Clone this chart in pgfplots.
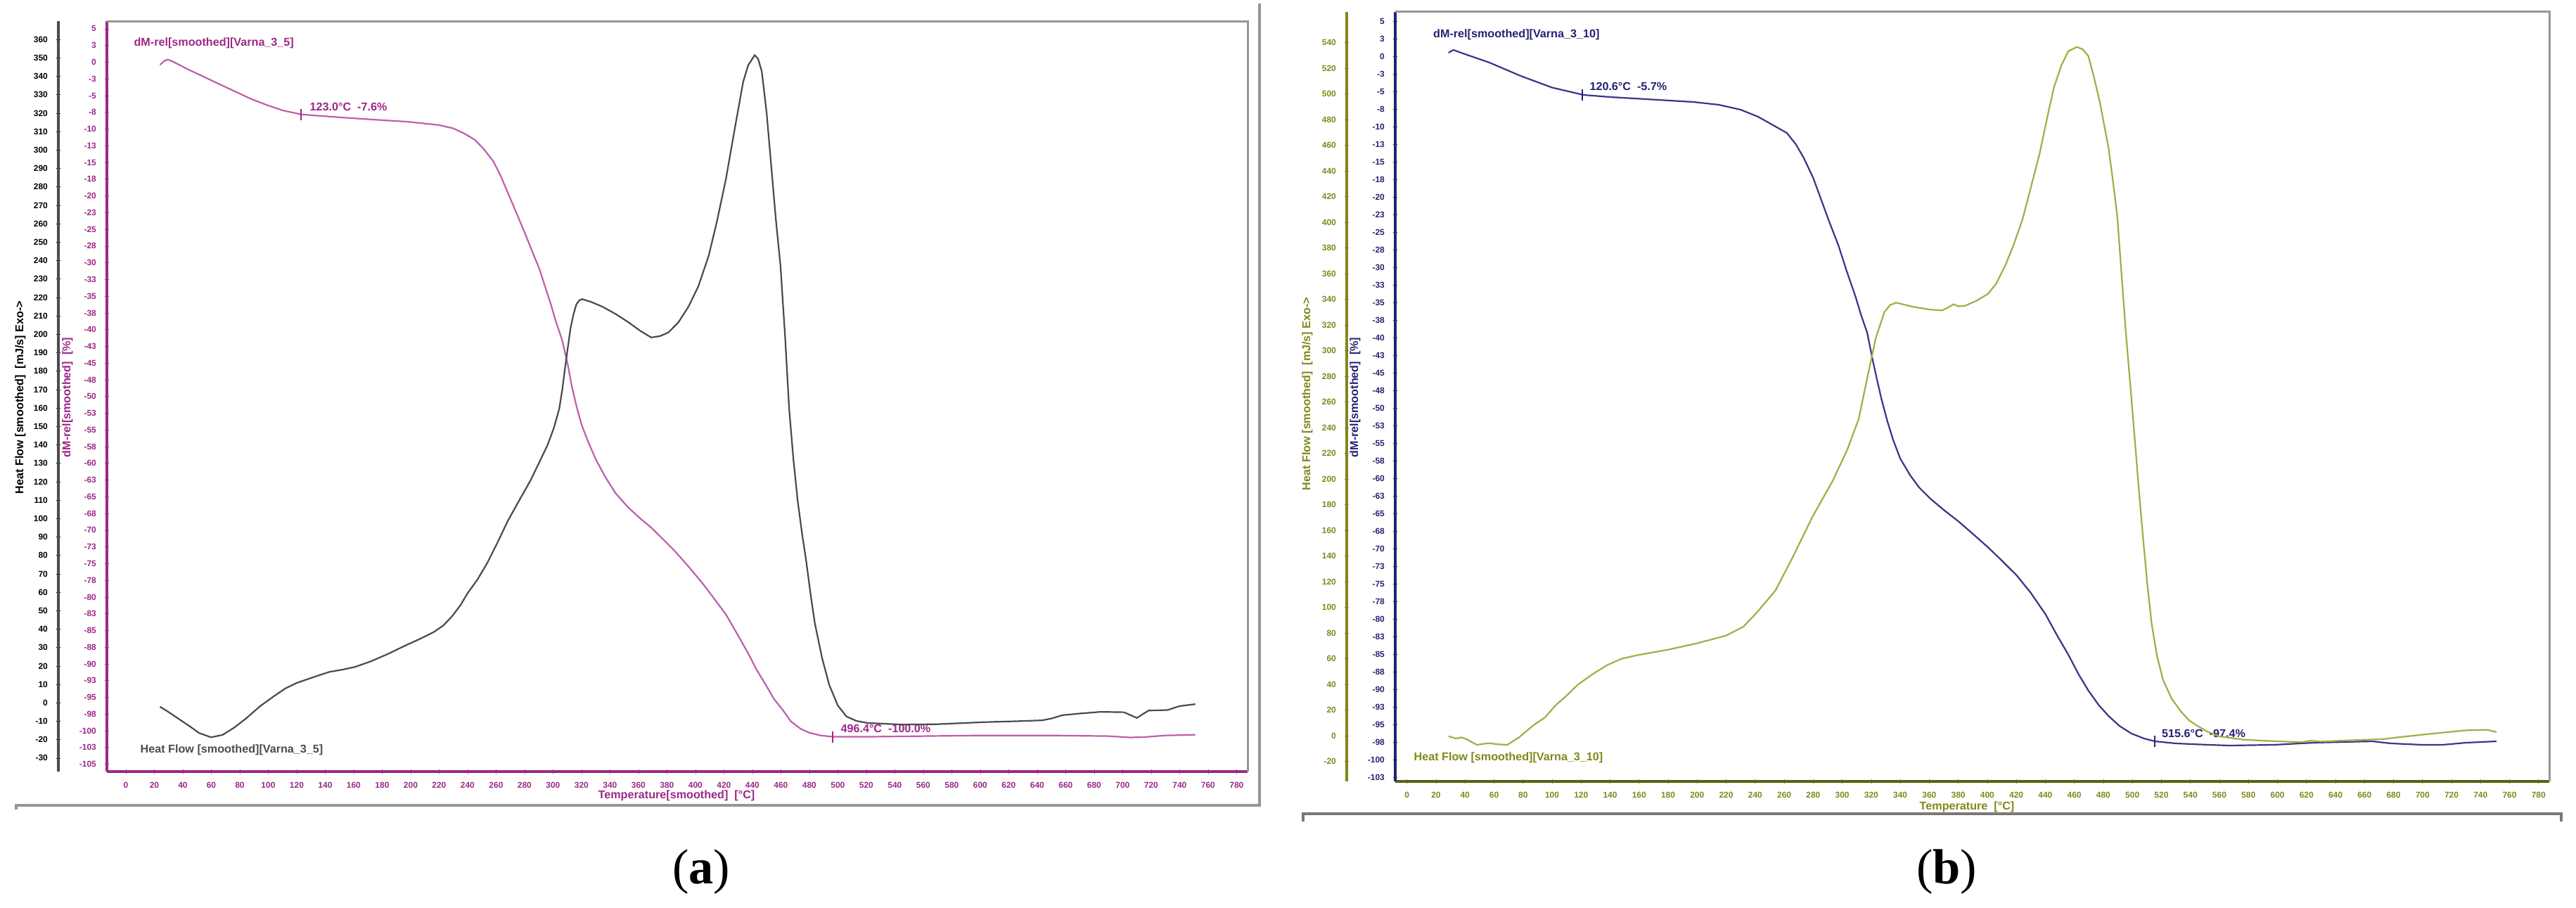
\documentclass[border=0pt]{standalone}
\usepackage{fontspec}
\setmainfont{Liberation Serif}
\setsansfont{Liberation Sans}
\usepackage{pgfplots}
\usepackage{pgfplotstable}
\pgfplotsset{compat=1.18}

\definecolor{magA}{RGB}{155,40,135}
\definecolor{magCurve}{RGB}{190,95,170}
\definecolor{hfCurve}{RGB}{75,75,75}
\definecolor{oliveB}{RGB}{130,135,25}
\definecolor{oliveCurve}{RGB}{165,172,70}
\definecolor{navyB}{RGB}{35,35,115}
\definecolor{navyCurve}{RGB}{55,55,135}
\definecolor{frameGray}{RGB}{150,150,150}

\newcommand{\tf}{\sffamily\bfseries\fontsize{3.4}{4}\selectfont}
\newcommand{\nf}{\sffamily\bfseries\fontsize{4.6}{5.5}\selectfont}

% panel (a): heat flow, Varna_3_5
\pgfplotstableread{
T HF
24 -2.1
30 -5
36.7 -8.5
45 -12.8
51.5 -16.4
59.8 -18.7
68 -17.4
76 -13.5
84.4 -8.5
94 -2
104 3.6
112 7.8
120 10.8
132 14
143 16.8
152 18
161 19.5
172 22.5
184 26.5
196 31
206 34.5
216 38.3
223 42
229 46.9
235 53
240 59.5
247 67
254 76.2
261 87
268 98.4
276 109.5
284.1 120.6
290 130
296.2 140
300.5 149
304.3 159.4
306.5 170
308.4 181.6
310.4 193
312.4 203.9
314.4 211
316.4 216.3
318.5 218.5
320.5 219.1
327 217.5
334.6 215
344 211
352.8 206.6
361 202
368.9 198.3
375 199
381 201
388 206.5
395.1 215
402 226
409.3 242.7
415 261
421.4 284.3
427 309
433.5 337
437 346
441.6 351.5
444 349.5
446.6 342.6
450 320
453.7 287
456.5 262
459.7 237.2
463 198
465.8 159.4
468.8 132
471.8 109.5
475 91
477.9 76.2
481 58
483.9 42.9
489 24
494 9.6
500 -1.5
506 -7.4
513 -9.8
520.4 -10.9
545 -11.8
570 -11.6
602 -10.5
625 -10
643.5 -9.5
650 -8.5
657.8 -6.7
670 -5.8
684.4 -4.9
700.8 -5.1
705 -6.5
710 -8.2
714 -6.2
718.2 -4.2
731.6 -3.9
739.8 -1.8
751 -0.7
}\hfA

% panel (a): mass loss, Varna_3_5
\pgfplotstableread{
T dM
24 -0.4
27 0.2
29.5 0.4
33 0.1
43.9 -1.1
55 -2.2
65.9 -3.3
77 -4.4
88 -5.5
99 -6.4
110 -7.2
123 -7.8
135 -8.0
154 -8.3
175 -8.6
198 -8.9
220 -9.4
230 -9.9
238 -10.7
245 -11.6
251 -12.9
258 -14.8
263 -16.9
268 -19.4
274 -22.4
280.1 -25.5
285 -28.1
290.2 -30.8
294 -33.3
298.3 -36.1
302 -38.8
306.3 -41.5
310.4 -45.3
313 -48.3
316.4 -51.4
320 -54.2
324.5 -56.7
330 -59.4
336.6 -62
344 -64.5
352.8 -66.6
361 -68.2
368.9 -69.6
377 -71.3
385 -73
395 -75.4
405.2 -78
413 -80.2
421.4 -82.6
429 -85.4
437.5 -88.6
443 -90.9
449.6 -93.2
455 -95.2
461.7 -97
467 -98.6
473.8 -99.7
480 -100.3
487.9 -100.7
496.4 -100.9
520 -100.9
560 -100.8
600 -100.7
650 -100.7
690 -100.8
705 -101
715 -100.95
730 -100.7
751 -100.6
}\dmA

% panel (b): heat flow, Varna_3_10
\pgfplotstableread{
T HF
28.7 -0.4
33.6 -2.2
37.6 -1.3
41.7 -3.1
48.1 -7.1
56.2 -5.8
62.7 -6.7
69.1 -7.1
77.2 -1.3
86.9 7.9
95 14.2
103 24.3
109.5 30.7
118 40
128 48
138 55
148 60
160 63
180 67
200 72
220 78
232 85
242 97.1
253.9 113
265.8 138.9
279.6 170.8
293.5 198.7
303.4 222.6
311.3 246.5
317.2 278.4
323.2 310.2
329.1 330.1
333 335.5
337.1 337.3
342 336
348.9 334.1
360 332
368.7 331.3
373 333.5
376.7 336.1
380 334.5
384.6 334.9
392 338.5
400.4 344.1
406 352
412.3 366
418 382
424.2 401.9
430 427
436.1 453.6
441 480
446 505.4
451 522
455.9 533.3
461.8 536.5
466 534.5
469.7 529.3
473.5 513
477.6 493.5
481 473
483.6 457.6
486.5 433
489.5 405.8
492.5 360
495.5 314.2
498.5 274
501.4 234.5
504.3 194
507.3 154.8
510.3 118
513.3 87.1
517 62
521.2 43.3
527 29
533.1 19.4
539 12
545 7.5
552 3
560 -0.5
576.5 -3.1
592.6 -4
610 -4.8
616.9 -4.9
623.4 -3.9
630 -4.6
649.2 -3.6
673.4 -2.6
685 -1
697.6 0.5
713.8 2.4
730 4.2
744.5 4.6
751 2.9
}\hfB

% panel (b): mass loss, Varna_3_10
\pgfplotstableread{
T dM
28.6 0.5
31.9 0.9
40 0.3
56.8 -0.9
78.4 -2.8
100 -4.45
121.7 -5.5
140 -5.8
165 -6.1
197.4 -6.5
215 -6.9
230 -7.6
242 -8.6
251.5 -9.7
261.8 -10.9
268 -12.5
273.6 -14.5
280 -17.3
285.5 -20.4
291 -23.5
297.4 -26.9
303 -30.5
309.2 -34.2
313 -36.8
317.2 -39.3
321.1 -43.3
324 -46
327 -48.7
331 -51.8
335 -54.5
340 -57.2
346.9 -59.6
353 -61.3
360.7 -62.9
370 -64.5
380.5 -66.2
390 -67.9
400.4 -69.8
410 -71.7
420.2 -73.8
430 -76.3
440 -79.3
448 -82.3
455.9 -85.1
463 -87.9
469.7 -90.2
477 -92.3
483.6 -93.8
491 -95.2
499.4 -96.3
508 -97
515.6 -97.4
530 -97.7
552.3 -97.9
566.8 -98
597.5 -97.9
625 -97.6
665.4 -97.4
678.3 -97.7
700 -97.9
713.8 -97.9
730 -97.6
751 -97.4
}\dmB

\newcommand{\dmticksA}{-105,-102.5,-100,-97.5,-95,-92.5,-90,-87.5,-85,-82.5,-80,-77.5,-75,-72.5,-70,-67.5,-65,-62.5,-60,-57.5,-55,-52.5,-50,-47.5,-45,-42.5,-40,-37.5,-35,-32.5,-30,-27.5,-25,-22.5,-20,-17.5,-15,-12.5,-10,-7.5,-5,-2.5,0,2.5,5}
\newcommand{\dmlabelsA}{-105,-103,-100,-98,-95,-93,-90,-88,-85,-83,-80,-78,-75,-73,-70,-68,-65,-63,-60,-58,-55,-53,-50,-48,-45,-43,-40,-38,-35,-33,-30,-28,-25,-23,-20,-18,-15,-13,-10,-8,-5,-3,0,3,5}
\newcommand{\dmticksB}{-102.5,-100,-97.5,-95,-92.5,-90,-87.5,-85,-82.5,-80,-77.5,-75,-72.5,-70,-67.5,-65,-62.5,-60,-57.5,-55,-52.5,-50,-47.5,-45,-42.5,-40,-37.5,-35,-32.5,-30,-27.5,-25,-22.5,-20,-17.5,-15,-12.5,-10,-7.5,-5,-2.5,0,2.5,5}
\newcommand{\dmlabelsB}{-103,-100,-98,-95,-93,-90,-88,-85,-83,-80,-78,-75,-73,-70,-68,-65,-63,-60,-58,-55,-53,-50,-48,-45,-43,-40,-38,-35,-33,-30,-28,-25,-23,-20,-18,-15,-13,-10,-8,-5,-3,0,3,5}

\pgfplotsset{
  base/.style={scale only axis, anchor=south west,
    /pgf/number format/assume math mode=true,
    tick label style={font=\tf},
    major tick length=0.55mm, minor tick length=0.3mm, tick align=outside},
  curve/.style={line width=0.22mm},
  notch/.style={only marks, mark=|, mark size=0.8mm, mark options={line width=0.2mm}},
  frametop/.style={after end axis/.code={
    \draw[frameGray, line width=0.3mm] (rel axis cs:0,1) -- (rel axis cs:1,1) -- (rel axis cs:1,0);}},
}

\begin{document}
\begin{tikzpicture}
\useasboundingbox (0,0) rectangle (366.3mm,129mm);

% ---------------- panel (a) ----------------
\begin{axis}[base, frametop, at={(15.2mm,19.3mm)}, width=162.2mm, height=106.65mm,
  xmin=-13.3, xmax=787.7, ymin=-106.1, ymax=6.1,
  axis x line=bottom, axis y line=left,
  x axis line style={-, magA, line width=0.35mm}, y axis line style={-, magA, line width=0.4mm},
  xtick={0,20,...,780}, minor x tick num=4,
  ytick/.expand once=\dmticksA, yticklabels/.expand once=\dmlabelsA, minor y tick num=4,
  x tick style={magA}, y tick style={magA},
  xticklabel style={text=magA}, yticklabel style={text=magA}]
\addplot[curve, magCurve] table[x=T, y=dM] {\dmA};
\addplot[notch, magA] coordinates {(123,-7.8) (496.4,-100.9)};
\node[anchor=west, font=\nf, text=magA, inner sep=0] at (axis cs:5.4,2.9) {dM-rel[smoothed][Varna\_3\_5]};
\node[anchor=west, font=\nf, text=magA, inner sep=0] at (axis cs:128.9,-6.7) {123.0°C\ \ -7.6\%};
\node[anchor=west, font=\nf, text=magA, inner sep=0] at (axis cs:501.7,-99.7) {496.4°C\ \ -100.0\%};
\node[anchor=west, font=\nf, text=hfCurve, inner sep=0] at (axis cs:9.9,-102.9) {Heat Flow [smoothed][Varna\_3\_5]};
\end{axis}

\begin{axis}[scale only axis, anchor=south west, at={(15.2mm,19.3mm)}, width=162.2mm, height=106.65mm,
  xmin=-13.3, xmax=787.7, ymin=-37.3, ymax=369.8, hide axis]
\addplot[curve, hfCurve] table[x=T, y=HF] {\hfA};
\end{axis}

\begin{axis}[base, at={(8.3mm,19.3mm)}, width=1mm, height=106.65mm,
  xmin=0, xmax=1, ymin=-37.3, ymax=369.8,
  axis y line=left, hide x axis, y axis line style={-, hfCurve, line width=0.35mm},
  ytick={-30,-20,...,360}, minor y tick num=4, y tick style={black}, yticklabel style={text=black}]
\addplot[draw=none] coordinates {(0,0)};
\end{axis}

\node[rotate=90, font=\nf, text=black] at (2.9mm,72.5mm) {Heat Flow [smoothed]\ \ [mJ/s] Exo->};
\node[rotate=90, font=\nf, text=magA] at (9.6mm,72.5mm) {dM-rel[smoothed]\ \ [\%]};
\node[font=\nf, text=magA] at (96.2mm,15.9mm) {Temperature[smoothed]\ \ [°C]};
\draw[frameGray, line width=0.35mm] (2.3mm,13.9mm) -- (2.3mm,14.5mm) -- (179.1mm,14.5mm) -- (179.1mm,128.5mm);
\node[font=\fontsize{20}{24}\selectfont] at (99.7mm,5.0mm) {(\textbf{a})};

% ---------------- panel (b) ----------------
\begin{axis}[base, frametop, at={(198.4mm,17.9mm)}, width=164.1mm, height=109.44mm,
  xmin=-8.1, xmax=787.4, ymin=-103.1, ymax=6.34,
  axis x line=bottom, axis y line=left,
  x axis line style={-, oliveB!70!black, line width=0.35mm}, y axis line style={-, navyB, line width=0.4mm},
  xtick={0,20,...,780}, minor x tick num=4,
  ytick/.expand once=\dmticksB, yticklabels/.expand once=\dmlabelsB, minor y tick num=4,
  x tick style={oliveB}, y tick style={navyB},
  xticklabel style={text=oliveB}, yticklabel style={text=navyB}]
\addplot[curve, navyCurve] table[x=T, y=dM] {\dmB};
\addplot[notch, navyB] coordinates {(120.6,-5.5) (515.6,-97.4)};
\node[anchor=west, font=\nf, text=navyB, inner sep=0] at (axis cs:17.8,3.1) {dM-rel[smoothed][Varna\_3\_10]};
\node[anchor=west, font=\nf, text=navyB, inner sep=0] at (axis cs:125.6,-4.25) {120.6°C\ \ -5.7\%};
\node[anchor=west, font=\nf, text=navyB, inner sep=0] at (axis cs:520,-96.3) {515.6°C\ \ -97.4\%};
\node[anchor=west, font=\nf, text=oliveB, inner sep=0] at (axis cs:4.5,-99.7) {Heat Flow [smoothed][Varna\_3\_10]};
\end{axis}

\begin{axis}[scale only axis, anchor=south west, at={(198.4mm,17.9mm)}, width=164.1mm, height=109.44mm,
  xmin=-8.1, xmax=787.4, ymin=-35.6, ymax=564, hide axis]
\addplot[curve, oliveCurve] table[x=T, y=HF] {\hfB};
\end{axis}

\begin{axis}[base, at={(191.5mm,17.9mm)}, width=1mm, height=109.44mm,
  xmin=0, xmax=1, ymin=-35.6, ymax=564,
  axis y line=left, hide x axis, y axis line style={-, oliveB, line width=0.35mm},
  ytick={-20,0,...,540}, minor y tick num=4, y tick style={oliveB}, yticklabel style={text=oliveB}]
\addplot[draw=none] coordinates {(0,0)};
\end{axis}

\node[rotate=90, font=\nf, text=oliveB] at (185.9mm,73mm) {Heat Flow [smoothed]\ \ [mJ/s] Exo->};
\node[rotate=90, font=\nf, text=navyB] at (192.7mm,72.5mm) {dM-rel[smoothed]\ \ [\%]};
\node[font=\nf, text=oliveB] at (279.7mm,14.3mm) {Temperature\ \ [°C]};
\draw[frameGray!80!black, line width=0.35mm] (185.3mm,12.2mm) -- (185.3mm,13.3mm) -- (364.2mm,13.3mm) -- (364.2mm,12.2mm);
\node[font=\fontsize{20}{24}\selectfont] at (276.8mm,5.0mm) {(\textbf{b})};
\end{tikzpicture}
\end{document}
